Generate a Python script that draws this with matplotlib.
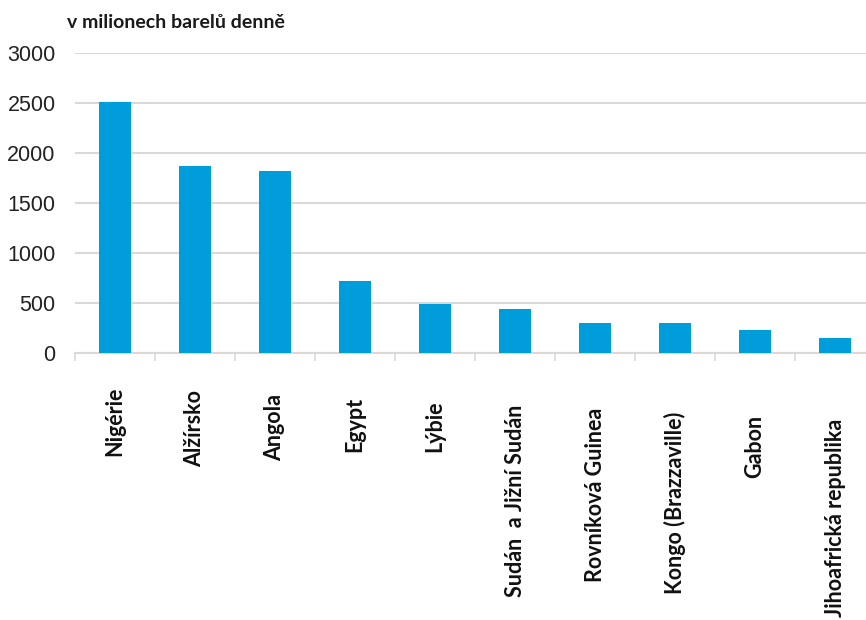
import numpy as np
import matplotlib
matplotlib.use('Agg')
import matplotlib.pyplot as plt

countries = ['Nigérie', 'Alžírsko', 'Angola', 'Egypt', 'Lýbie',
             'Sudán  a Jižní Sudán', 'Rovníková Guinea', 'Kongo (Brazzaville)',
             'Gabon', 'Jihoafrická republika']
production = [2515, 1870, 1820, 720, 490, 440, 300, 300, 235, 155]
yticks = [0, 500, 1000, 1500, 2000, 2500, 3000]

BAR = '#009ddb'
GRID = '#d9d9d9'

fig = plt.figure(figsize=(8.66, 6.2), dpi=100)
ax = fig.add_axes([75 / 866, 1 - 353 / 620, 800 / 866, 300 / 620])

x = np.arange(len(countries))
ax.bar(x, production, width=0.41, color=BAR, zorder=3)

ax.set_xlim(-0.5, len(countries) - 0.5)
ax.set_ylim(0, 3000)
ax.set_yticks(yticks)
ax.set_yticklabels([str(v) for v in yticks], fontsize=15.5,
                   family='Liberation Sans', color='#222222')
ax.tick_params(axis='y', length=0, pad=14)
ax.yaxis.grid(True, color=GRID, linewidth=1.5, zorder=0)

# boundary ticks between bars, labels drawn separately below
ax.set_xticks(x)
ax.set_xticklabels([])
ax.tick_params(axis='x', which='major', length=0)
ax.set_xticks(np.arange(len(countries) + 1) - 0.5, minor=True)
ax.tick_params(axis='x', which='minor', length=6, width=1.2, color=GRID)

# rotated category names; they sit a little lower towards the right
for i, name in enumerate(countries):
    drop = 24 + i * 2.6
    ax.annotate(name, xy=(i, 0), xycoords=('data', 'axes fraction'),
                xytext=(0, -drop), textcoords='offset points',
                rotation=90, ha='center', va='top', fontsize=15.5,
                fontweight='bold', family='Lato', color='#111111',
                annotation_clip=False)

for side in ['top', 'right', 'left']:
    ax.spines[side].set_visible(False)
ax.spines['bottom'].set_color(GRID)
ax.spines['bottom'].set_linewidth(1.5)

fig.text(67 / 866, 1 - 22 / 620, 'v milionech barelů denně', fontsize=14,
         fontweight='bold', family='Lato', color='#1a1a1a', va='center')

fig.savefig('out.png', dpi=100)
